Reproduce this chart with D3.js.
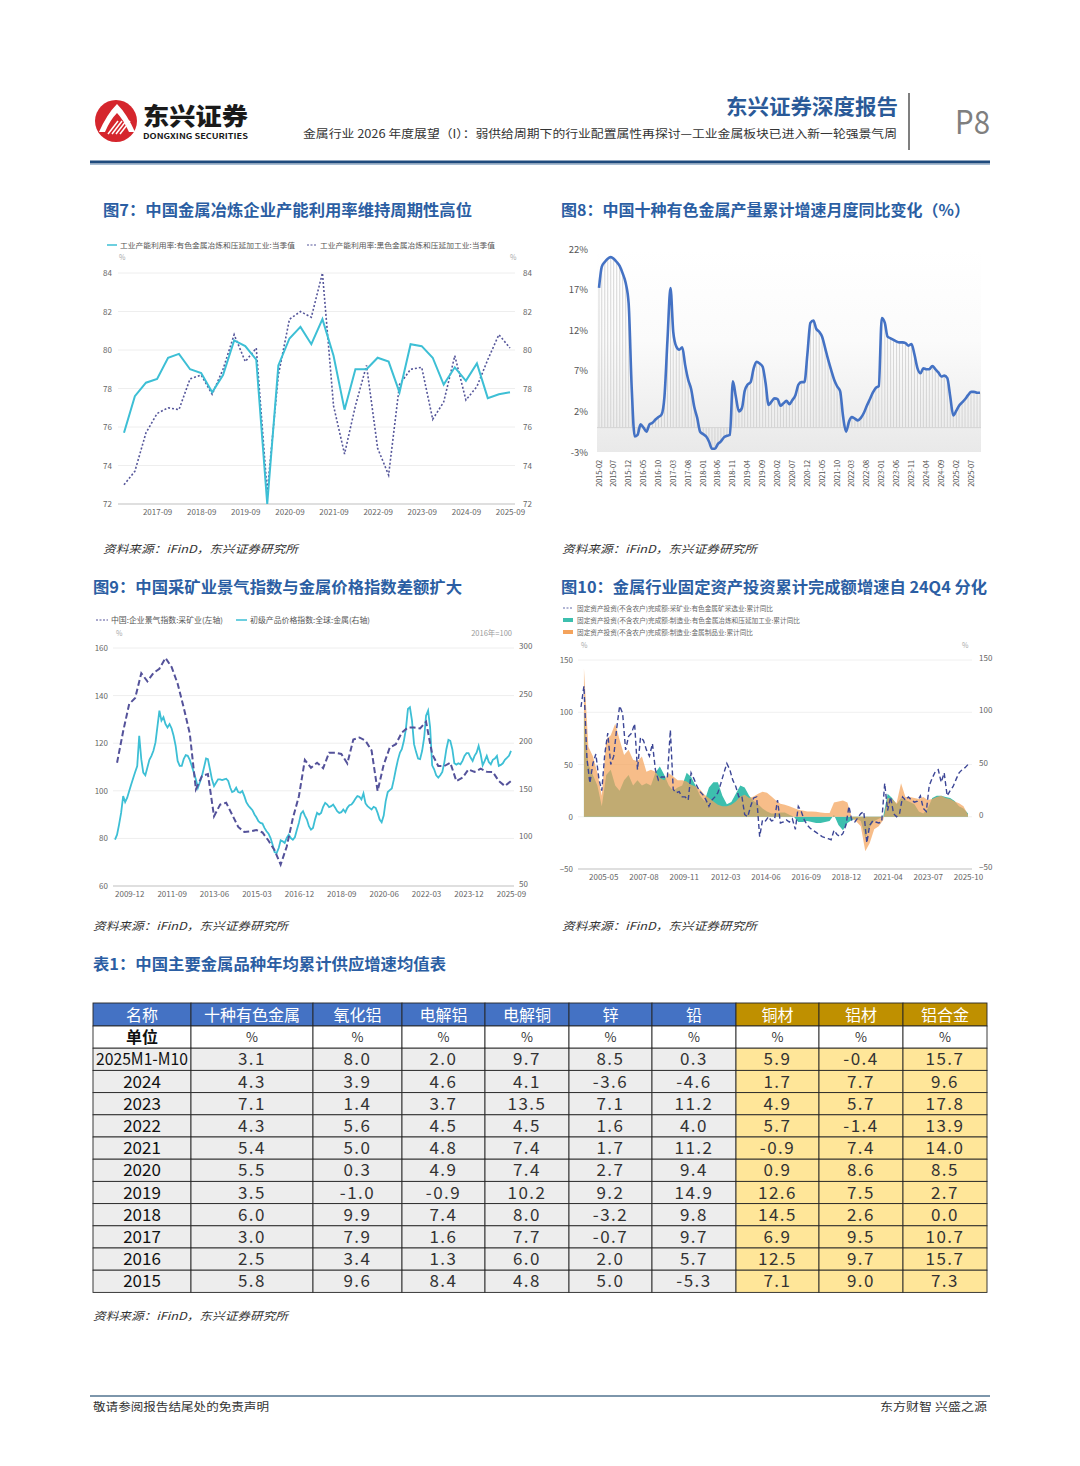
<!DOCTYPE html>
<html>
<head>
<meta charset="utf-8">
<script src="https://cdn.jsdelivr.net/npm/d3@7"></script>
<style>
  body { margin: 0; background: #fff; }
  svg { display: block; }
  text { font-family: "Noto Sans CJK SC", "Noto Sans", sans-serif; }
</style>
</head>
<body>
<svg id="page" width="1080" height="1466"></svg>
<script>
// ---------- data ----------
// fig 7: quarterly capacity utilisation, 2016-12 .. 2025-09
const fig7Quarters = d3.range(36).map((i) => new Date(2016, 11 + 3 * i, 1));
const fig7Ticks = ['2017-09', '2018-09', '2019-09', '2020-09', '2021-09', '2022-09', '2023-09', '2024-09', '2025-09'];
const fig7YTicks = [72, 74, 76, 78, 80, 82, 84];
const fig7Nonferrous = [75.7, 77.6, 78.3, 78.5, 79.6, 79.8, 79.0, 78.8, 77.8, 78.7, 80.5, 80.2, 79.5, 72.0, 79.2, 80.6, 81.2, 80.3,
  81.6, 79.7, 76.9, 79.0, 79.0, 79.6, 79.4, 77.8, 80.3, 80.2, 79.6, 78.2, 79.1, 78.4, 79.3, 77.5, 77.7, 77.8];
const fig7Ferrous = [73.0, 73.7, 75.7, 76.7, 77.0, 76.9, 78.5, 78.7, 77.7, 79.0, 80.8, 79.4, 80.1, 72.6, 78.7, 81.6, 82.0, 81.7,
  84.0, 77.1, 74.6, 77.1, 79.2, 74.9, 73.5, 78.2, 79.0, 79.1, 76.4, 77.3, 79.7, 77.4, 78.1, 79.5, 80.8, 80.1];

// fig 8: monthly output growth of ten non-ferrous metals, 2015-02 .. 2025-10
const fig8Months = d3.timeMonths(new Date(2015, 1, 1), new Date(2025, 10, 1));
const fig8YTicks = [-3, 2, 7, 12, 17, 22];
const fig8Output = [17.2, 19.8, 20.4, 20.8, 21.0, 20.8, 20.4, 19.9, 19.0, 17.8,
  15.3, 5.0, -1.1, -0.9, 0.4, 0.0, -0.5, 0.4, 0.6, 1.0,
  1.3, 1.6, 3.8, 10.8, 17.2, 11.8, 10.0, 9.6, 9.9, 7.7,
  5.9, 4.7, 2.6, 1.2, -0.5, -0.8, -1.1, -1.7, -2.6, -2.6,
  -2.0, -1.7, -1.2, -1.0, -0.9, 5.7, 3.8, 2.0, 2.4, 4.5,
  5.3, 5.6, 7.3, 8.1, 7.9, 7.5, 5.5, 2.8, 3.2, 3.6,
  3.5, 2.7, 3.0, 3.3, 2.9, 3.4, 4.0, 5.3, 5.6, 5.6,
  9.0, 12.9, 13.2, 12.2, 11.8, 11.2, 9.8, 8.4, 7.1, 5.9,
  5.1, 4.5, 1.4, -0.5, 0.8, 1.3, 1.1, 0.9, 1.2, 1.8,
  2.7, 3.5, 4.3, 4.9, 5.1, 13.5, 12.9, 11.2, 11.0, 10.8,
  10.6, 10.5, 10.5, 10.4, 10.1, 10.3, 9.0, 7.3, 6.7, 7.3,
  7.2, 7.2, 7.6, 7.2, 6.8, 6.3, 6.4, 6.1, 3.8, 1.5,
  2.1, 2.7, 3.1, 3.5, 4.0, 4.4, 4.4, 4.3, 4.3];

// fig 9: mining business climate (quarterly, left) vs metals price index (monthly, right)
const fig9Quarters = d3.range(66).map((i) => new Date(2009, 5 + 3 * i, 1));
const fig9Months = d3.range(197).map((i) => new Date(2009, 4 + i, 1));
const fig9Ticks = ['2009-12', '2011-09', '2013-06', '2015-03', '2016-12', '2018-09', '2020-06', '2022-03', '2023-12', '2025-09'];
const fig9LeftTicks = [60, 80, 100, 120, 140, 160];
const fig9RightTicks = [50, 100, 150, 200, 250, 300];
const fig9Mining = [111.8, 125, 136.5, 139, 149.4, 146, 149.5, 151.3, 155.8, 152,
  145, 135, 124, 100.6, 106.2, 107, 89.3, 94.2, 95, 90,
  84.8, 82.7, 83, 83.5, 82.5, 79, 75, 69, 76.6, 88.5,
  97.7, 113, 109.7, 111.8, 109.5, 116, 116, 115.5, 111.5, 121.5,
  122.4, 121, 117, 99.9, 111, 118.2, 119.6, 124.5, 126.6, 126.6,
  126.2, 129, 115.4, 110.4, 110.4, 111.8, 104.1, 105.5, 109, 107.9,
  109.3, 108, 107.9, 104.1, 102, 104.1];
const fig9Metals = [98.7, 103.9, 114.5, 126.8, 144.4, 138.1, 142.7, 149.7, 156.8, 163.8,
  169.8, 176.1, 207.8, 183.2, 169.1, 166.3, 174.4, 182.5, 186.7, 192.0,
  200.8, 218.4, 234.2, 223.7, 227.2, 220.1, 216.6, 220.1, 215.5, 207.8,
  197.2, 181.4, 176.1, 176.1, 183.2, 187.4, 186.7, 182.5, 176.1, 169.1,
  162.0, 153.2, 159.2, 165.5, 174.4, 183.9, 183.2, 172.6, 162.0, 155.0,
  158.5, 162.0, 162.0, 161.3, 162.0, 162.7, 160.3, 153.2, 148.7, 149.7,
  153.2, 148.7, 147.9, 149.7, 144.4, 138.1, 134.6, 132.1, 129.6, 125.1,
  122.2, 118.0, 116.3, 115.6, 111.0, 107.5, 105.0, 100.4, 93.4, 85.6,
  84.6, 89.9, 98.0, 96.9, 95.2, 100.4, 103.9, 100.4, 98.7, 101.2,
  109.2, 116.3, 126.1, 128.6, 124.0, 119.8, 112.8, 109.2, 111.0, 119.8,
  126.8, 125.1, 126.8, 133.2, 137.4, 135.6, 132.8, 133.9, 135.6, 132.1,
  128.6, 126.8, 127.5, 130.4, 127.5, 132.1, 134.9, 135.6, 138.1, 141.6,
  144.4, 143.7, 140.9, 147.2, 136.7, 133.9, 132.1, 130.4, 133.2, 132.1,
  126.8, 119.8, 117.0, 124.0, 139.1, 148.7, 150.7, 152.5, 162.0, 172.6,
  182.5, 190.2, 193.7, 202.5, 214.8, 235.9, 237.7, 223.7, 199.0, 190.9,
  183.9, 183.2, 192.0, 206.0, 228.9, 234.2, 216.6, 176.8, 172.6, 166.3,
  163.8, 166.3, 169.8, 179.6, 193.7, 203.5, 202.5, 193.7, 178.9, 177.5,
  178.9, 177.8, 181.4, 186.7, 189.5, 189.5, 184.9, 181.4, 186.7, 190.2,
  197.2, 188.4, 176.8, 181.4, 186.7, 180.3, 177.8, 182.5, 183.9, 186.7,
  176.1, 177.2, 178.9, 182.5, 184.5, 186.7, 192.0];

// fig 10: fixed asset investment, cumulative yoy (%)
const fig10Quarters = d3.timeMonth.every(3).range(new Date(2004, 3, 1), new Date(2025, 10, 1));
const fig10Months = d3.range(131).map((i) => new Date(2004, 1 + 2 * i, 1));
const fig10Ticks = ['2005-05', '2007-08', '2009-11', '2012-03', '2014-06', '2016-09', '2018-12', '2021-04', '2023-07', '2025-10'];
const fig10YTicks = [-50, 0, 50, 100, 150];
const fig10Fabricated = [142, 67, 58, 42, 20, 73.6, 78, 89, 73.6, 59,
  64, 54.5, 53, 57.6, 43, 45, 43, 37, 35, 41.7,
  38.5, 35, 35, 33.8, 30.6, 29, 26, 21, 18, 14.6,
  11.5, 10, 10, 11.5, 14.6, 19.4, 21, 18, 19.4, 22,
  24, 23, 19.4, 15.6, 12.4, 11.5, 10, 8.3, 6.7, 6,
  5, 5, 4.8, 4, 3.5, 3.5, 13.7, 14.6, 15.6, 13.7,
  -1.3, -4.5, -9, -33, -25, -12, -9, -3, 18, 17,
  13, 32, 19, 19, 18, 17, 19, 16, 17, 19,
  20, 18, 17, 14.6, 13, 10, 2];
const fig10Smelting = [100, 50, 40, 30, 10, 40, 45, 30, 25, 35,
  40, 30, 35, 30, 32, 30, 42, 48, 40, 30,
  25, 28, 30, 42, 38, 30, 20, 15, 28, 33,
  33, 20, 12, 14, 22, 30, 28, 20, 15, 12,
  8, 5, 3, 3, 4, 4, 2, 0, -5, -5,
  -4, -5, -6, -6, -5, -4, 2, -8, -13, -6,
  -3, -2, -4, -20, -10, -4, -2, 0, 22, 18,
  12, 18, 16, 14, 12, 5, 3, 8, 18, 20,
  20, 19, 18, 15, 10, 8, 3];
const fig10Mining = [105, 125, 56, 32, 51, 60, 36, 25, 60, 80,
  50, 58, 85, 106, 99, 64, 77, 80, 89, 45,
  76, 73, 64, 58, 70, 45, 35, 38, 38, 37,
  83, 26, 23, 24, 19, 19, 16, 42, 36, 29,
  24, 21, 16, 10, 16, 19, 23, 32, 42, 51,
  45, 35, 29, 19, 20, 2, 0, 10, 18, 19,
  -19, -3, -4, 0, -4, -3, 16, -6, -5, -3,
  -5, -2, -12, 10, 5, -3, -8, -11, -13, -15,
  -17, -19, -20, -21, -22, -13, -17, -19, -16, -8,
  10, -4, -5, -1, 3, 5, -25, -8, -4, -5,
  -6, -5, 32, 6, 19, 3, 0, 3, 19, 16,
  19, 16, 14, 15, 20, 8, 5, 30, 37, 43,
  45, 33, 42, 20, 25, 29, 36, 42, 45, 47, 50];

// table 1
const tableHeaders = ['名称', '十种有色金属', '氧化铝', '电解铝', '电解铜', '锌', '铅', '铜材', '铝材', '铝合金'];
const tableRowLabels = ['2025M1-M10', '2024', '2023', '2022', '2021', '2020', '2019', '2018', '2017', '2016', '2015'];
const tableValues = [
  [3.1, 8.0, 2.0, 9.7, 8.5, 0.3, 5.9, -0.4, 15.7],
  [4.3, 3.9, 4.6, 4.1, -3.6, -4.6, 1.7, 7.7, 9.6],
  [7.1, 1.4, 3.7, 13.5, 7.1, 11.2, 4.9, 5.7, 17.8],
  [4.3, 5.6, 4.5, 4.5, 1.6, 4.0, 5.7, -1.4, 13.9],
  [5.4, 5.0, 4.8, 7.4, 1.7, 11.2, -0.9, 7.4, 14.0],
  [5.5, 0.3, 4.9, 7.4, 2.7, 9.4, 0.9, 8.6, 8.5],
  [3.5, -1.0, -0.9, 10.2, 9.2, 14.9, 12.6, 7.5, 2.7],
  [6.0, 9.9, 7.4, 8.0, -3.2, 9.8, 14.5, 2.6, 0.0],
  [3.0, 7.9, 1.6, 7.7, -0.7, 9.7, 6.9, 9.5, 10.7],
  [2.5, 3.4, 1.3, 6.0, 2.0, 5.7, 12.5, 9.7, 15.7],
  [5.8, 9.6, 8.4, 4.8, 5.0, -5.3, 7.1, 9.0, 7.3],
];

// ---------- helpers ----------
const svg = d3.select('#page');
const parseMonth = d3.timeParse('%Y-%m');
const fmtMonth = d3.timeFormat('%Y-%m');
const SOURCE = '资料来源：iFinD，东兴证券研究所';

function label(g, x, y, str, opts = {}) {
  const t = g.append('text')
    .attr('x', x)
    .attr('y', y)
    .attr('font-size', opts.size || 8)
    .attr('fill', opts.color || '#666')
    .attr('text-anchor', opts.anchor || 'start')
    .text(str);
  if (opts.weight) t.attr('font-weight', opts.weight);
  if (opts.family) t.attr('font-family', opts.family);
  if (opts.italic) t.attr('font-style', 'italic');
  if (opts.width) t.attr('textLength', opts.width).attr('lengthAdjust', 'spacingAndGlyphs');
  return t;
}

function styleAxis(g, size, color) {
  g.attr('font-family', '"Noto Sans", sans-serif').attr('font-size', size);
  g.select('.domain').remove();
  g.selectAll('text').attr('fill', color || '#666');
}

function gridLines(g, ticks, scale, x1, x2, color) {
  g.append('g').selectAll('line')
    .data(ticks)
    .enter()
    .append('line')
    .attr('x1', x1)
    .attr('x2', x2)
    .attr('y1', (d) => scale(d))
    .attr('y2', (d) => scale(d))
    .attr('stroke', (d, i) => (i === 0 ? '#bfbfbf' : color || '#eeeeee'))
    .attr('stroke-width', 1);
}

svg.append('rect').attr('width', 1080).attr('height', 1466).attr('fill', '#fff');

// ---------- page header ----------
const header = svg.append('g');
header.append('circle').attr('cx', 116).attr('cy', 121).attr('r', 21).attr('fill', '#d5262d');
header.append('path')
  .attr('d', 'M99,132 Q107,114 117,104 Q127,114 135,132 L129,132 Q123,119 117,113 Q110,120 105,132 Z')
  .attr('fill', '#fff');
[0, 1, 2, 3].forEach((i) => {
  header.append('line')
    .attr('x1', 108 + i * 4).attr('y1', 134)
    .attr('x2', 118 + i * 4).attr('y2', 121)
    .attr('stroke', '#fff').attr('stroke-width', 1.5);
});
label(header, 143, 125, '东兴证券', { size: 24, weight: 900, color: '#1a1a1a', width: 105 });
label(header, 143, 139, 'DONGXING SECURITIES', {
  size: 7.5, weight: 700, color: '#1a1a1a', family: '"Noto Sans", sans-serif', width: 105,
});
label(header, 898, 114, '东兴证券深度报告', { size: 21, weight: 700, color: '#2a5a98', anchor: 'end', width: 172 });
label(header, 897, 138, '金属行业 2026 年度展望（I）：弱供给周期下的行业配置属性再探讨—工业金属板块已进入新一轮强景气周', {
  size: 11.5, color: '#333', anchor: 'end', width: 594,
});
header.append('line').attr('x1', 909).attr('x2', 909).attr('y1', 93).attr('y2', 150)
  .attr('stroke', '#7f7f7f').attr('stroke-width', 2);
label(header, 955, 134, 'P8', { size: 32, color: '#7f7f7f', family: '"Open Sans", sans-serif', width: 35 });
header.append('line').attr('x1', 90).attr('x2', 990).attr('y1', 162).attr('y2', 162)
  .attr('stroke', '#1f4b7d').attr('stroke-width', 3);
header.append('line').attr('x1', 90).attr('x2', 990).attr('y1', 164.5).attr('y2', 164.5)
  .attr('stroke', '#a8bdd3').attr('stroke-width', 1);

// titles and sources
const TITLE = '#2b5ea3';
label(svg, 103, 216, '图7：中国金属冶炼企业产能利用率维持周期性高位', { size: 15.5, weight: 700, color: TITLE, width: 369 });
label(svg, 561, 216, '图8：中国十种有色金属产量累计增速月度同比变化（%）', { size: 15.5, weight: 700, color: TITLE, width: 409 });
label(svg, 93, 593, '图9：中国采矿业景气指数与金属价格指数差额扩大', { size: 15.5, weight: 700, color: TITLE, width: 369 });
label(svg, 561, 593, '图10：金属行业固定资产投资累计完成额增速自 24Q4 分化', { size: 15.5, weight: 700, color: TITLE, width: 426 });
label(svg, 93, 970, '表1：中国主要金属品种年均累计供应增速均值表', { size: 15.5, weight: 700, color: TITLE, width: 353 });
[[103, 553], [562, 553], [93, 930], [562, 930], [93, 1320]].forEach(([x, y]) => {
  label(svg, x, y, SOURCE, { size: 11, color: '#333', italic: true, width: 195 });
});

// ---------- fig 7 ----------
const f7 = svg.append('g');
const x7 = d3.scaleTime().domain([fig7Quarters[0], fig7Quarters[35]]).range([124, 510]);
const y7 = d3.scaleLinear().domain([72, 84]).range([504, 273]);
gridLines(f7, fig7YTicks, y7, 118, 515);
styleAxis(f7.append('g').attr('transform', 'translate(116,0)')
  .call(d3.axisLeft(y7).tickValues(fig7YTicks).tickSize(0).tickPadding(4)), 8);
styleAxis(f7.append('g').attr('transform', 'translate(519,0)')
  .call(d3.axisRight(y7).tickValues(fig7YTicks).tickSize(0).tickPadding(4)), 8);
styleAxis(f7.append('g').attr('transform', 'translate(0,504)')
  .call(d3.axisBottom(x7).tickValues(fig7Ticks.map(parseMonth)).tickFormat(fmtMonth).tickSize(0).tickPadding(5)), 8);
const line7 = (vals) => d3.line().x((d, i) => x7(fig7Quarters[i])).y((d) => y7(d))(vals);
f7.append('path').attr('d', line7(fig7Ferrous)).attr('fill', 'none')
  .attr('stroke', '#55569a').attr('stroke-width', 1.6).attr('stroke-dasharray', '2,2');
f7.append('path').attr('d', line7(fig7Nonferrous)).attr('fill', 'none')
  .attr('stroke', '#3dbfd5').attr('stroke-width', 2);
f7.append('line').attr('x1', 107).attr('x2', 117).attr('y1', 245).attr('y2', 245).attr('stroke', '#3dbfd5').attr('stroke-width', 1.5);
label(f7, 120, 248, '工业产能利用率:有色金属冶炼和压延加工业:当季值', { size: 7.3, color: '#555', width: 175 });
f7.append('line').attr('x1', 307).attr('x2', 317).attr('y1', 245).attr('y2', 245)
  .attr('stroke', '#55569a').attr('stroke-width', 1.2).attr('stroke-dasharray', '2,1.5');
label(f7, 320, 248, '工业产能利用率:黑色金属冶炼和压延加工业:当季值', { size: 7.3, color: '#555', width: 175 });
label(f7, 119, 260, '%', { size: 7, color: '#aaa' });
label(f7, 510, 260, '%', { size: 7, color: '#aaa' });

// ---------- fig 8 ----------
const f8 = svg.append('g');
const x8 = d3.scaleTime().domain([fig8Months[0], fig8Months[fig8Months.length - 1]]).range([599, 980]);
const y8 = d3.scaleLinear().domain([-3, 22]).range([452, 249]);
const grad = svg.append('defs').append('linearGradient').attr('id', 'panel8')
  .attr('x1', '0%').attr('y1', '0%').attr('x2', '0%').attr('y2', '100%');
grad.append('stop').attr('offset', '0%').attr('stop-color', '#ffffff');
grad.append('stop').attr('offset', '45%').attr('stop-color', '#fbfbfb');
grad.append('stop').attr('offset', '100%').attr('stop-color', '#e9e9e9');
f8.append('rect').attr('x', 597).attr('y', 249).attr('width', 384).attr('height', 203).attr('fill', 'url(#panel8)');
f8.append('g').selectAll('line')
  .data(fig8Output)
  .enter()
  .append('line')
  .attr('x1', (d, i) => x8(fig8Months[i]))
  .attr('x2', (d, i) => x8(fig8Months[i]))
  .attr('y1', y8(0))
  .attr('y2', (d) => y8(d))
  .attr('stroke', '#cdcdcd')
  .attr('stroke-width', 0.8);
f8.append('line').attr('x1', 597).attr('x2', 981).attr('y1', y8(0)).attr('y2', y8(0)).attr('stroke', '#d4d4d4');
f8.append('path')
  .attr('d', d3.line().curve(d3.curveMonotoneX).x((d, i) => x8(fig8Months[i])).y((d) => y8(d))(fig8Output))
  .attr('fill', 'none').attr('stroke', '#4472c4').attr('stroke-width', 2.6);
styleAxis(f8.append('g').attr('transform', 'translate(592,0)')
  .call(d3.axisLeft(y8).tickValues(fig8YTicks).tickFormat((d) => `${d}%`).tickSize(0).tickPadding(4)), 9.5, '#555');
f8.append('g').selectAll('text')
  .data(fig8Months.filter((d, i) => i % 5 === 0))
  .enter()
  .append('text')
  .attr('transform', (d) => `translate(${x8(d) + 2.5},460) rotate(-90)`)
  .attr('text-anchor', 'end')
  .attr('font-size', 7.3)
  .attr('font-family', '"Noto Sans", sans-serif')
  .attr('fill', '#555')
  .text(fmtMonth);

// ---------- fig 9 ----------
const f9 = svg.append('g');
const x9 = d3.scaleTime().domain([fig9Months[0], fig9Months[196]]).range([115, 511]);
const y9L = d3.scaleLinear().domain([60, 160]).range([886, 648]);
const y9R = d3.scaleLinear().domain([50, 300]).range([886, 648]);
gridLines(f9, fig9LeftTicks, y9L, 113, 514);
styleAxis(f9.append('g').attr('transform', 'translate(112,0)')
  .call(d3.axisLeft(y9L).tickValues(fig9LeftTicks).tickSize(0).tickPadding(4)), 8);
styleAxis(f9.append('g').attr('transform', 'translate(515,-2)')
  .call(d3.axisRight(y9R).tickValues(fig9RightTicks).tickSize(0).tickPadding(4)), 8);
styleAxis(f9.append('g').attr('transform', 'translate(0,886)')
  .call(d3.axisBottom(x9).tickValues(fig9Ticks.map(parseMonth)).tickFormat(fmtMonth).tickSize(0).tickPadding(5)), 8);
f9.append('path')
  .attr('d', d3.line().x((d, i) => x9(fig9Months[i])).y((d) => y9R(d))(fig9Metals))
  .attr('fill', 'none').attr('stroke', '#3dbfd5').attr('stroke-width', 1.8);
f9.append('path')
  .attr('d', d3.line().x((d, i) => x9(fig9Quarters[i])).y((d) => y9L(d))(fig9Mining))
  .attr('fill', 'none').attr('stroke', '#54529a').attr('stroke-width', 2).attr('stroke-dasharray', '6,3');
f9.append('line').attr('x1', 96).attr('x2', 108).attr('y1', 620).attr('y2', 620)
  .attr('stroke', '#54529a').attr('stroke-width', 1).attr('stroke-dasharray', '2,1.5');
label(f9, 111, 623, '中国:企业景气指数:采矿业(左轴)', { size: 7.5, color: '#555', width: 112 });
f9.append('line').attr('x1', 236).attr('x2', 247).attr('y1', 620).attr('y2', 620).attr('stroke', '#3dbfd5').attr('stroke-width', 1.5);
label(f9, 250, 623, '初级产品价格指数:全球:金属(右轴)', { size: 7.5, color: '#555', width: 120 });
label(f9, 116, 636, '%', { size: 7, color: '#aaa' });
label(f9, 512, 636, '2016年=100', { size: 7.5, color: '#999', anchor: 'end' });

// ---------- fig 10 ----------
const f10 = svg.append('g');
const x10 = d3.scaleTime().domain([fig10Months[0], fig10Months[130]]).range([581, 968]);
const y10 = d3.scaleLinear().domain([-50, 150]).range([869, 660]);
gridLines(f10, fig10YTicks, y10, 578, 972, '#f0f0f0');
styleAxis(f10.append('g').attr('transform', 'translate(577,0)')
  .call(d3.axisLeft(y10).tickValues(fig10YTicks).tickSize(0).tickPadding(4)), 8);
styleAxis(f10.append('g').attr('transform', 'translate(975,-2)')
  .call(d3.axisRight(y10).tickValues(fig10YTicks).tickSize(0).tickPadding(4)), 8);
styleAxis(f10.append('g').attr('transform', 'translate(0,869)')
  .call(d3.axisBottom(x10).tickValues(fig10Ticks.map(parseMonth)).tickFormat(fmtMonth).tickSize(0).tickPadding(5)), 8);
const area10 = d3.area().x((d, i) => x10(fig10Quarters[i])).y0(y10(0)).y1((d) => y10(d));
f10.append('path').attr('d', area10(fig10Smelting)).attr('fill', '#3dbfae');
f10.append('path').attr('d', area10(fig10Fabricated)).attr('fill', '#f4a35c').attr('fill-opacity', 0.72);
f10.append('path')
  .attr('d', d3.line().x((d, i) => x10(fig10Months[i])).y((d) => y10(d))(fig10Mining))
  .attr('fill', 'none').attr('stroke', '#3c4696').attr('stroke-width', 1.4).attr('stroke-dasharray', '5,3');
const legend10 = [
  { text: '固定资产投资(不含农户)完成额:采矿业:有色金属矿采选业:累计同比', kind: 'line', w: 196 },
  { text: '固定资产投资(不含农户)完成额:制造业:有色金属冶炼和压延加工业:累计同比', kind: '#3dbfae', w: 223 },
  { text: '固定资产投资(不含农户)完成额:制造业:金属制品业:累计同比', kind: '#f4a35c', w: 176 },
];
legend10.forEach((d, i) => {
  const y = 608 + i * 12;
  if (d.kind === 'line') {
    f10.append('line').attr('x1', 563).attr('x2', 573).attr('y1', y).attr('y2', y)
      .attr('stroke', '#3c4696').attr('stroke-width', 0.8).attr('stroke-dasharray', '2,1.5');
  } else {
    f10.append('rect').attr('x', 563).attr('y', y - 2).attr('width', 10).attr('height', 4).attr('fill', d.kind);
  }
  label(f10, 577, y + 2.5, d.text, { size: 6.3, color: '#666', width: d.w });
});
label(f10, 581, 648, '%', { size: 7, color: '#aaa' });
label(f10, 962, 648, '%', { size: 7, color: '#aaa' });

// ---------- table 1 ----------
const tbl = svg.append('g');
const colEdges = [93, 191, 313, 402, 485, 569, 652, 736, 819, 903, 987];
const rowEdges = [1003].concat(d3.range(13).map((k) => 1026 + 22.2 * k));
const cells = [];
rowEdges.slice(0, -1).forEach((top, r) => {
  colEdges.slice(0, -1).forEach((left, c) => {
    let fill = '#ededed';
    if (r === 0) fill = c < 7 ? '#4472c4' : '#bf9000';
    else if (r === 1) fill = '#ffffff';
    else if (c >= 7) fill = '#ffe699';
    cells.push({
      r, c, x: left, y: top, w: colEdges[c + 1] - left, h: rowEdges[r + 1] - top, fill,
    });
  });
});
tbl.selectAll('rect')
  .data(cells)
  .enter()
  .append('rect')
  .attr('x', (d) => d.x)
  .attr('y', (d) => d.y)
  .attr('width', (d) => d.w)
  .attr('height', (d) => d.h)
  .attr('fill', (d) => d.fill)
  .attr('stroke', '#262626')
  .attr('stroke-width', 0.9);
cells.forEach((d) => {
  const cx = d.x + d.w / 2;
  const cy = d.y + d.h / 2;
  if (d.r === 0) {
    label(tbl, cx, cy + 6, tableHeaders[d.c], { size: 16, color: '#fff', anchor: 'middle' });
  } else if (d.r === 1) {
    if (d.c === 0) label(tbl, cx, cy + 6, '单位', { size: 16, weight: 700, color: '#111', anchor: 'middle' });
    else label(tbl, cx, cy + 5, '%', { size: 13, color: '#333', anchor: 'middle', family: '"Liberation Serif", serif' });
  } else if (d.c === 0) {
    const t = tableRowLabels[d.r - 2];
    label(tbl, cx, cy + 6, t, {
      size: 17, color: '#111', anchor: 'middle', family: '"Liberation Serif", serif', width: t.length > 4 ? 92 : null,
    });
  } else {
    label(tbl, cx, cy + 6, tableValues[d.r - 2][d.c - 1].toFixed(1), {
      size: 17, color: '#333', anchor: 'middle', family: '"Liberation Serif", serif',
    }).attr('letter-spacing', 1.5);
  }
});

// ---------- footer ----------
svg.append('line').attr('x1', 90).attr('x2', 990).attr('y1', 1396).attr('y2', 1396)
  .attr('stroke', '#7d96ab').attr('stroke-width', 2);
label(svg, 93, 1411, '敬请参阅报告结尾处的免责声明', { size: 11, color: '#333', width: 176 });
label(svg, 987, 1411, '东方财智 兴盛之源', { size: 11, color: '#333', anchor: 'end', width: 107 });
</script>
</body>
</html>
